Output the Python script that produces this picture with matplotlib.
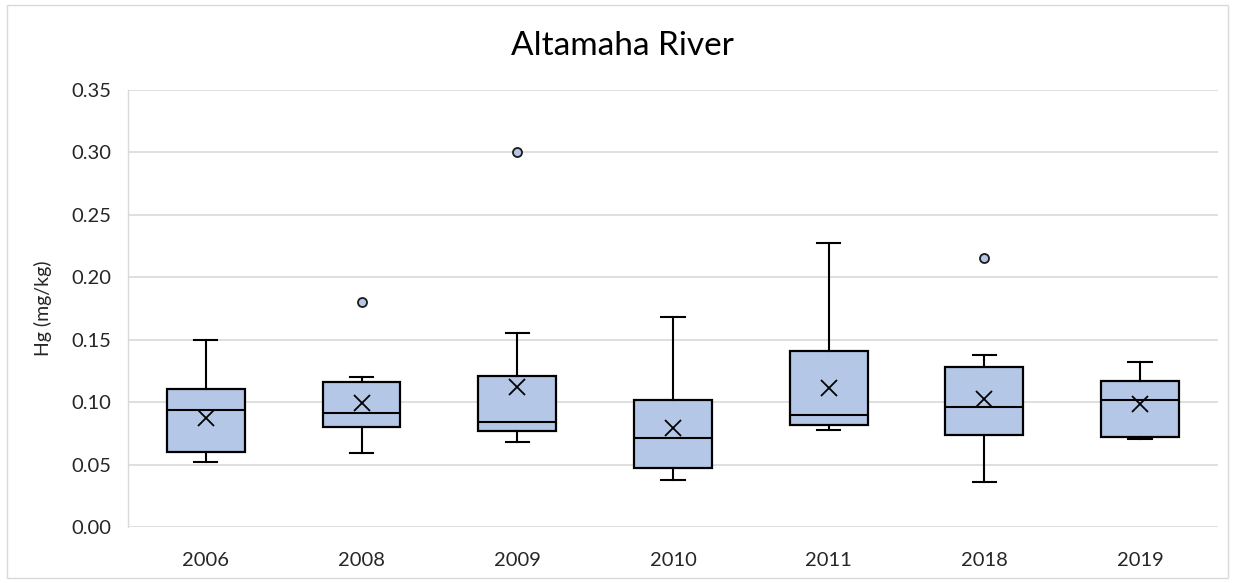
import matplotlib
matplotlib.use("Agg")
import matplotlib.pyplot as plt
from matplotlib.patches import Rectangle

plt.rcParams['font.family'] = ['Lato', 'DejaVu Sans']

years = ["2006", "2008", "2009", "2010", "2011", "2018", "2019"]
whisker_low = [0.0523, 0.0595, 0.0678, 0.0376, 0.0777, 0.0360, 0.0705]
q1 = [0.0603, 0.0798, 0.0772, 0.0475, 0.0814, 0.0737, 0.0718]
median = [0.0937, 0.0910, 0.0844, 0.0710, 0.0894, 0.0958, 0.1017]
q3 = [0.1103, 0.1159, 0.1209, 0.1017, 0.1407, 0.1284, 0.1169]
whisker_high = [0.1498, 0.1199, 0.1556, 0.1682, 0.2272, 0.1375, 0.1324]
mean = [0.0870, 0.0996, 0.1124, 0.0795, 0.1116, 0.1023, 0.0985]
outliers = [[], [0.180], [0.3006], [], [], [0.2154], []]
yticks = [0.00, 0.05, 0.10, 0.15, 0.20, 0.25, 0.30, 0.35]

fig = plt.figure(figsize=(12.35, 5.83), dpi=100)
ax = fig.add_axes([0.1036, 0.096, 0.8826, 0.7496])

stats = []
for i, y in enumerate(years):
    stats.append(dict(label=y, whislo=whisker_low[i], q1=q1[i], med=median[i],
                      q3=q3[i], whishi=whisker_high[i], mean=mean[i],
                      fliers=outliers[i]))

pos = list(range(len(years)))
ax.bxp(stats, positions=pos, widths=0.5, capwidths=0.15, patch_artist=True,
       showmeans=True, showfliers=True,
       boxprops=dict(facecolor='#B4C7E7', edgecolor='#000000', linewidth=1.6),
       medianprops=dict(color='#000000', linewidth=1.5),
       whiskerprops=dict(color='#000000', linewidth=1.5),
       capprops=dict(color='#000000', linewidth=1.5),
       meanprops=dict(marker='x', markersize=12, markeredgecolor='#000000',
                      markeredgewidth=1.3, linestyle='none'),
       flierprops=dict(marker='o', markersize=6.5, markerfacecolor='#B4C7E7',
                       markeredgecolor='#1a1a1a', markeredgewidth=1.3))

ax.set_xlim(-0.5, len(years) - 0.5)
ax.set_ylim(0, 0.35)
ax.set_yticks(yticks)
ax.set_yticklabels([f"{v:.2f}" for v in yticks])
ax.set_xticks(pos)
ax.set_xticklabels(years)
ax.tick_params(axis='both', length=0, labelsize=14.5, colors='#262626')
ax.tick_params(axis='x', pad=18)
ax.tick_params(axis='y', pad=12)
ax.grid(axis='y', color='#D9D9D9', linewidth=1.2)
ax.set_axisbelow(True)
for s in ['top', 'right', 'bottom']:
    ax.spines[s].set_visible(False)
ax.spines['left'].set_color('#D9D9D9')
ax.spines['left'].set_linewidth(1.0)

ax.set_ylabel("Hg (mg/kg)", fontsize=14, color='#262626', labelpad=14)
fig.text(0.504, 0.9057, "Altamaha River", ha='center', va='baseline', fontsize=24, color='#000000')

fig.patches.append(Rectangle((0.006, 0.008), 0.988, 0.984, transform=fig.transFigure,
                             fill=False, edgecolor='#D9D9D9', linewidth=1.0))

fig.savefig("out.png", dpi=100)
